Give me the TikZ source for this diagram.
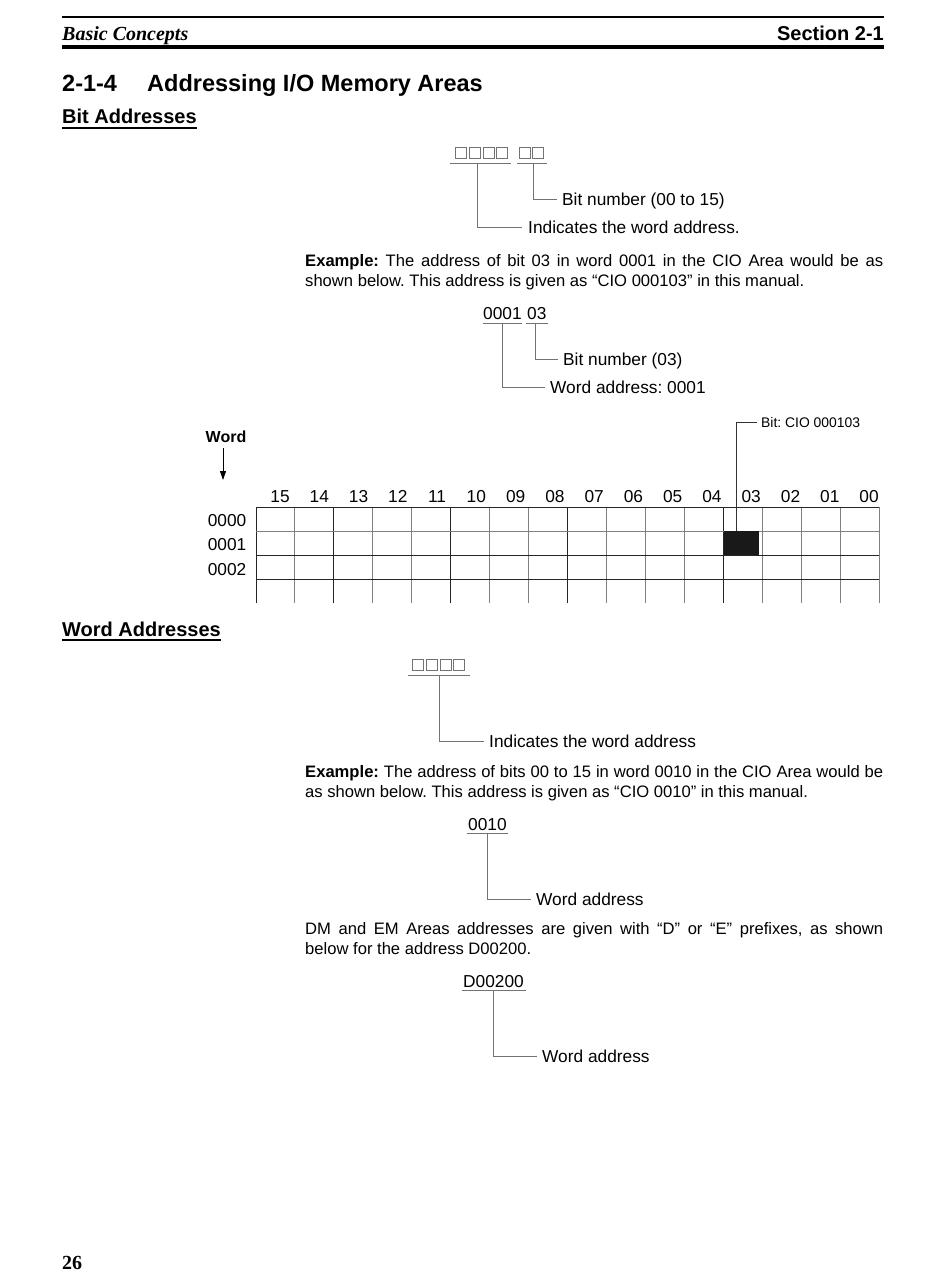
\documentclass[tikz,border=0pt]{standalone}
\usepackage{fontspec}
\setmainfont{Liberation Sans}
\newfontfamily\serifpage{Liberation Serif}
\usepackage{tikz}
\usetikzlibrary{arrows.meta, positioning, calc}
\frenchspacing

\newcommand{\fsz}[1]{\fontsize{#1pt}{20pt}\selectfont}

\begin{document}
\begin{tikzpicture}[x=1pt, y=-1pt,
    every node/.style={inner sep=0pt},
    label text/.style={font=\fsz{17.3}, anchor=west, text height=12.4pt, text depth=0pt},
    digits/.style={font=\fsz{17.3}, text height=12.4pt, text depth=0pt},
    addr/.style={font=\fsz{17.3}, anchor=base west},
    para/.style={font=\fsz{16.6}, anchor=base west, text width=578pt, align=justify},
    heading/.style={font=\bfseries\fsz{20}, anchor=base west},
    leader/.style={draw=black!55, line width=0.9pt},
    uline/.style={draw=black!55, line width=1pt},
    slot/.style={draw=black!55, line width=0.8pt},
    slots/.style={minimum height=16pt, anchor=south west},
    gridline/.style={draw=black!50, line width=0.9pt},
    heavyline/.style={draw=black!85, line width=0.9pt}]

    \fill[white] (0,0) rectangle (950,1287);
    \useasboundingbox (0,0) rectangle (950,1287);

    % page header
    \draw[line width=1.6pt] (62,17) -- (884,17);
    \node[anchor=base west, font=\serifpage\bfseries\itshape\fsz{20}] (chapter) at (62,41) {Basic Concepts};
    \node[anchor=base east, font=\bfseries\fsz{20}] (section) at (884,41) {Section 2-1};
    \draw[line width=4pt] (62,47.5) -- (884,47.5);

    \node[anchor=base west, font=\bfseries\fsz{23.5}] (secnum) at (62,92) {2-1-4};
    \node[anchor=base west, font=\bfseries\fsz{23.5}] (sectitle) at (147,92) {Addressing I/O Memory Areas};

    % bit addresses
    \node[heading] (bithead) at (62,124) {Bit Addresses};
    \draw[line width=1.6pt] ($(bithead.south west)+(0,3.5)$) -- ($(bithead.south east)+(0,3.5)$);

    \node[slots, minimum width=61pt] (wordslots) at (450,163) {};
    \foreach \i in {0,...,3}
        \draw[slot] ($(wordslots.south west)+(5.5+\i*13.75,-5)$) rectangle ++(11,-11);
    \draw[uline] (wordslots.south west) -- (wordslots.south east);
    \node[slots, minimum width=30pt] (bitslots) at (517,163) {};
    \foreach \i in {0,1}
        \draw[slot] ($(bitslots.south west)+(2+\i*13.75,-5)$) rectangle ++(11,-11);
    \draw[uline] (bitslots.south west) -- (bitslots.south east);

    \node[label text] (bitnum) at (562,199) {Bit number (00 to 15)};
    \node[label text] (wordind) at (528,227) {Indicates the word address.};
    \draw[leader] ($(bitslots.south)+(1,0)$) |- ($(bitnum.west)+(-5,0)$);
    \draw[leader] ($(wordslots.south)+(-3,0)$) |- ($(wordind.west)+(-6,0)$);

    \node[para] (ex1) at (305,266) {\textbf{Example:} The address of bit 03 in word 0001 in the CIO Area would be as\linebreak shown below. This address is given as “CIO 000103” in this manual.};

    \node[addr] (wordaddr) at (483,319) {0001};
    \node[addr] (bitaddr) at (527,319) {03};
    \draw[uline] ($(wordaddr.south west)+(0,4)$) -- ($(wordaddr.south east)+(0,4)$);
    \draw[uline] ($(bitaddr.south west)+(-1,4)$) -- ($(bitaddr.south east)+(1,4)$);
    \node[label text] (bitnum3) at (563,359) {Bit number (03)};
    \node[label text] (wordval) at (550,387) {Word address: 0001};
    \draw[leader] ($(bitaddr.south)+(-1,4)$) |- ($(bitnum3.west)+(-5,0)$);
    \draw[leader] ($(wordaddr.south)+(0,4)$) |- ($(wordval.west)+(-5,0)$);

    % word / bit grid
    \node[font=\bfseries\fsz{16}] (wordhd) at (226,437) {Word};
    \coordinate (wordtail) at (223,448);
    \coordinate (wordtip) at (223,480);
    \draw[-{Triangle[length=9pt,width=6pt]}, line width=0.9pt] (wordtail) -- (wordtip);

    \foreach \c in {0,...,16}
        \draw[gridline] (256+\c*38.9375,507) -- (256+\c*38.9375,603);
    \foreach \c in {0,2,5,8,12}
        \draw[heavyline] (256+\c*38.9375,507) -- (256+\c*38.9375,603);
    \draw[gridline] (256,531.2) -- (879,531.2);
    \foreach \r in {0,2,3}
        \draw[heavyline] (256,507+\r*24.2) -- (879,507+\r*24.2);

    \node[fill=black!90, minimum width=35pt, minimum height=24pt, anchor=north west] (bitcell) at (724,531.2) {};

    \foreach \lab [count=\i from 0] in {15,14,13,12,11,10,09,08,07,06,05,04,03,02,01,00}
        \node[digits] (col\lab) at (280+\i*39.27,496) {\lab};
    \foreach \w [count=\r from 0] in {0000,0001,0002}
        \node[digits, anchor=east] (row\w) at (246.5,520+\r*24.5) {\w};

    \node[font=\fsz{13.9}, anchor=west, text height=10pt, text depth=0pt] (bitname) at (761,422) {Bit: CIO 000103};
    \draw[leader, draw=black!80] ($(bitcell.north)+(-5,0)$) |- ($(bitname.west)+(-4,0)$);

    % word addresses
    \node[heading] (wordhead) at (62,636) {Word Addresses};
    \draw[line width=1.6pt] ($(wordhead.south west)+(0,3.5)$) -- ($(wordhead.south east)+(0,3.5)$);

    \node[slots, minimum width=62pt] (addrslots) at (408,675) {};
    \foreach \i in {0,...,3}
        \draw[slot] ($(addrslots.south west)+(4.5+\i*13.75,-5)$) rectangle ++(11,-11);
    \draw[uline] (addrslots.south west) -- (addrslots.south east);
    \node[label text] (wordind2) at (489,741) {Indicates the word address};
    \draw[leader] (addrslots.south) |- ($(wordind2.west)+(-5,0)$);

    \node[para] (ex2) at (305,777) {\textbf{Example:} The address of bits 00 to 15 in word 0010 in the CIO Area would be\linebreak as shown below. This address is given as “CIO 0010” in this manual.};

    \node[addr] (cioword) at (468,830) {0010};
    \draw[uline] ($(cioword.south west)+(-1,3.5)$) -- ($(cioword.south east)+(1,3.5)$);
    \node[label text] (ciolbl) at (536,899) {Word address};
    \draw[leader] ($(cioword.south)+(0,3.5)$) |- ($(ciolbl.west)+(-5,0)$);

    \node[para] (dmem) at (305,934) {DM and EM Areas addresses are given with “D” or “E” prefixes, as shown\linebreak below for the address D00200.};

    \node[addr] (dmword) at (463,987) {D00200};
    \draw[uline] ($(dmword.south west)+(-1.5,3.5)$) -- ($(dmword.south east)+(1.5,3.5)$);
    \node[label text] (dmlbl) at (542,1056) {Word address};
    \draw[leader] ($(dmword.south)+(0,3.5)$) |- ($(dmlbl.west)+(-5,0)$);

    % page number
    \node[anchor=base west, font=\serifpage\bfseries\fsz{20}] (pagenum) at (62,1269) {26};
\end{tikzpicture}
\end{document}
